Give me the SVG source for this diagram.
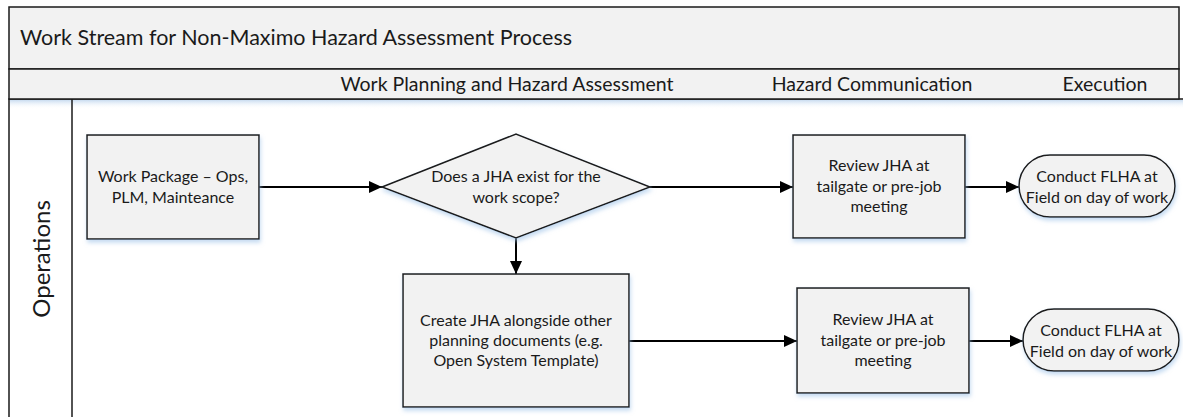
<svg xmlns="http://www.w3.org/2000/svg" width="1183" height="417" viewBox="0 0 1183 417">
<style>
.frame{fill:#f2f2f2;stroke:#1a1a1a;stroke-width:1.5}
.lane{fill:#ffffff;stroke:#1a1a1a;stroke-width:1.5}
.box{fill:#f2f2f2;stroke:#1a1a1a;stroke-width:1.5;filter:url(#sh)}
.t{font-family:Lato,"Open Sans",sans-serif;fill:#1a1a1a;text-anchor:middle}
.n{font-size:16px}
.ph{font-size:19.5px}
.edge{stroke:#000;stroke-width:2;fill:none;marker-end:url(#ah)}
</style>
<defs>
<filter id="sh" x="-10%" y="-10%" width="130%" height="130%">
<feGaussianBlur in="SourceAlpha" stdDeviation="2"/>
<feOffset dx="1" dy="3" result="b"/>
<feFlood flood-color="#9fc3e8" flood-opacity="0.6"/>
<feComposite in2="b" operator="in"/>
<feMerge><feMergeNode/><feMergeNode in="SourceGraphic"/></feMerge>
</filter>
<linearGradient id="hs" x1="0" y1="0" x2="0" y2="1">
<stop offset="0" stop-color="#c9dcf0"/>
<stop offset="1" stop-color="#ffffff" stop-opacity="0"/>
</linearGradient>
<marker id="ah" viewBox="0 0 13 12" refX="13" refY="6" markerWidth="13" markerHeight="12" markerUnits="userSpaceOnUse" orient="auto">
<path d="M0,0 L13,6 L0,12 z" fill="#000"/>
</marker>
</defs>
<g id="pool">
<rect class="lane" x="9" y="99" width="1180" height="330"/>
<rect x="10" y="100" width="1175" height="9" fill="url(#hs)"/>
<line x1="72" y1="99" x2="72" y2="420" stroke="#1a1a1a" stroke-width="1.5"/>
<rect class="frame" x="9" y="7" width="1170" height="62"/>
<rect class="frame" x="9" y="69" width="1170" height="30"/>
<text class="t" x="20" y="45" style="font-size:21.5px;text-anchor:start">Work Stream for Non-Maximo Hazard Assessment Process</text>
<text class="t ph" x="507" y="91">Work Planning and Hazard Assessment</text>
<text class="t ph" x="872" y="91">Hazard Communication</text>
<text class="t ph" x="1105" y="91">Execution</text>
<text class="t" transform="translate(50,259) rotate(-90)" style="font-size:24px">Operations</text>
</g>
<g id="connectors">
<line class="edge" x1="259" y1="187" x2="382" y2="187"/>
<line class="edge" x1="650" y1="187" x2="793" y2="187"/>
<line class="edge" x1="965" y1="187" x2="1019" y2="187"/>
<line class="edge" x1="516" y1="238" x2="516" y2="274"/>
<line class="edge" x1="629" y1="341" x2="797" y2="341"/>
<line class="edge" x1="969" y1="341" x2="1023" y2="341"/>
</g>
<g id="work-package">
<rect class="box" x="87" y="135" width="172" height="104"/>
<text class="t n" x="173" y="182">Work Package – Ops,</text>
<text class="t n" x="173" y="203">PLM, Mainteance</text>
</g>
<g id="decision">
<polygon class="box" points="382,187 516,134 650,187 516,238"/>
<text class="t n" x="516" y="182">Does a JHA exist for the</text>
<text class="t n" x="516" y="203">work scope?</text>
</g>
<g id="create-jha">
<rect class="box" x="403" y="274" width="226" height="133"/>
<text class="t n" x="516" y="326">Create JHA alongside other</text>
<text class="t n" x="516" y="346">planning documents (e.g.</text>
<text class="t n" x="516" y="366">Open System Template)</text>
</g>
<g id="review-jha-1">
<rect class="box" x="793" y="135" width="172" height="103"/>
<text class="t n" x="879" y="171">Review JHA at</text>
<text class="t n" x="879" y="192">tailgate or pre-job</text>
<text class="t n" x="879" y="212">meeting</text>
</g>
<g id="flha-1">
<rect class="box" x="1019" y="155" width="156" height="62" rx="31" ry="31"/>
<text class="t n" x="1097" y="182">Conduct FLHA at</text>
<text class="t n" x="1097" y="203">Field on day of work</text>
</g>
<g id="review-jha-2">
<rect class="box" x="797" y="288" width="172" height="105"/>
<text class="t n" x="883" y="325">Review JHA at</text>
<text class="t n" x="883" y="346">tailgate or pre-job</text>
<text class="t n" x="883" y="366">meeting</text>
</g>
<g id="flha-2">
<rect class="box" x="1023" y="309" width="156" height="62" rx="31" ry="31"/>
<text class="t n" x="1101" y="336">Conduct FLHA at</text>
<text class="t n" x="1101" y="357">Field on day of work</text>
</g>
</svg>
